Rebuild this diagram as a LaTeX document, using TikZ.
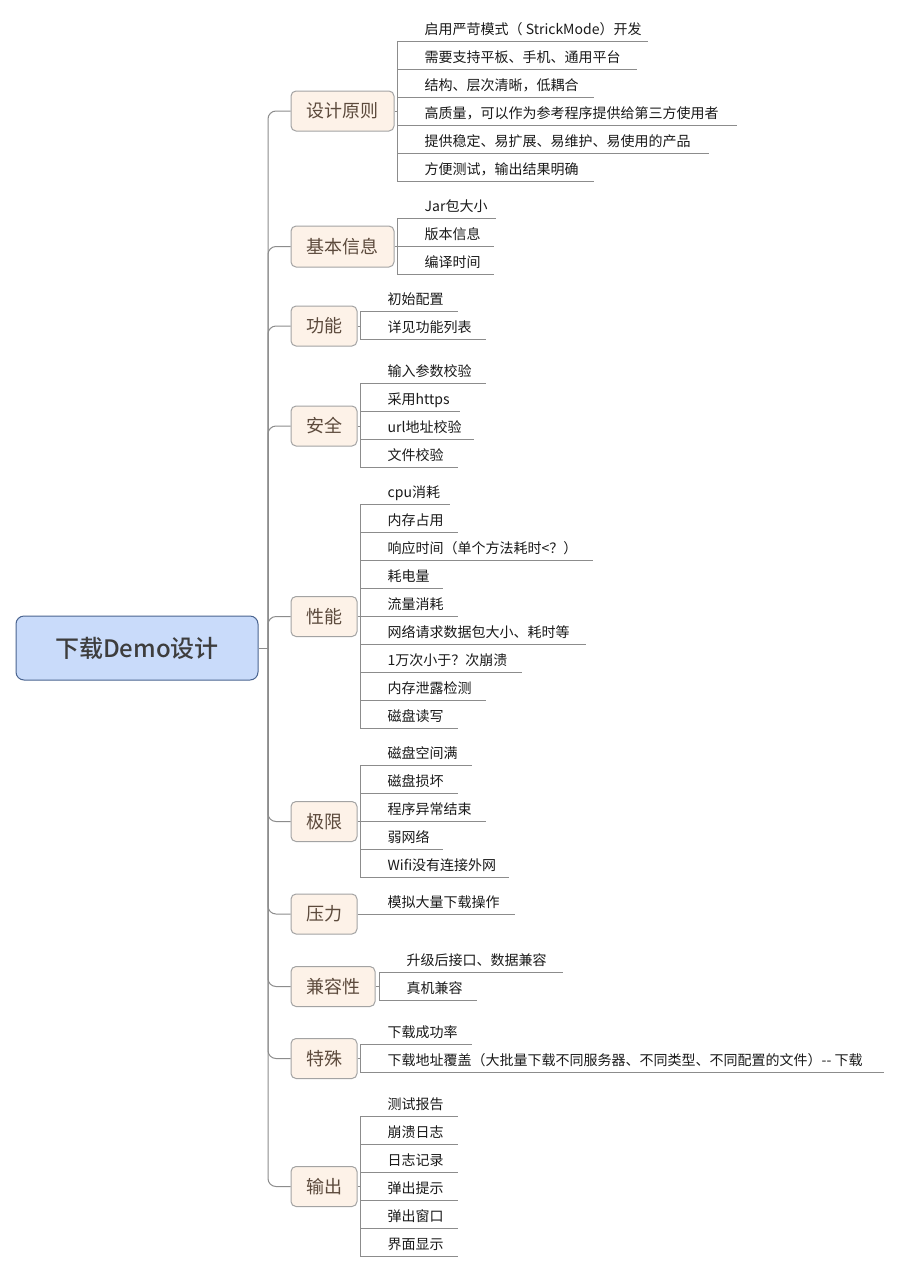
\documentclass[tikz,border=0pt]{standalone}
\usepackage{fontspec}
\setmainfont{Noto Sans CJK SC}
\newfontfamily\rootfont{Noto Sans CJK SC Medium}
\usetikzlibrary{calc}
\definecolor{linec}{HTML}{8C8C8C}
\definecolor{bfill}{HTML}{FDF2E8}
\definecolor{bdraw}{HTML}{A3A3A3}
\definecolor{btext}{HTML}{5C4A3C}
\definecolor{rfill}{HTML}{C9DBFA}
\definecolor{rdraw}{HTML}{4A6490}
\definecolor{rtext}{HTML}{3D3D3D}
\definecolor{ltext}{HTML}{1A1A1A}
\tikzset{
  conn/.style={draw=linec, line width=1pt},
  rootbox/.style={draw=rdraw, fill=rfill, line width=1pt, rounded corners=8pt,
    minimum width=242pt, minimum height=64pt, inner sep=0pt, text=rtext,
    font=\fontsize{24}{28}\rootfont},
  brbox/.style={draw=bdraw, fill=bfill, line width=1pt, rounded corners=5pt,
    minimum height=40pt, inner sep=0pt, text=btext,
    font=\fontsize{18}{22}\selectfont},
  leaf/.style={anchor=base west, inner sep=0pt, text=ltext,
    font=\fontsize{14}{16}\selectfont},
}
\newcommand\mkleaf[5]{%
  \coordinate (#1s) at (#2,#3);
  \coordinate (#1e) at (#4,#3);
  \draw[conn] (#1s) -- (#1e);
  \node[leaf] (#1) at ([shift={(27.5,-6.5)}]#1s) {#5};
}
\begin{document}
\begin{tikzpicture}[x=1pt,y=-1pt]
\fill[white] (0,0) rectangle (900,1272);
\useasboundingbox (0,0) rectangle (900,1272);

% root
\node[rootbox] (root) at (137,648) {下载Demo设计};
\coordinate (spine) at (268,648);

% branch boxes
\node[brbox, minimum width=103pt] (b1) at (342.5,111) {设计原则};
\node[brbox, minimum width=103pt, minimum height=41pt] (b2) at (342.5,246.5) {基本信息};
\node[brbox, minimum width=66pt] (b3) at (324,326) {功能};
\node[brbox, minimum width=66pt] (b4) at (324,426) {安全};
\node[brbox, minimum width=66pt] (b5) at (324,616.5) {性能};
\node[brbox, minimum width=66pt] (b6) at (324,821.5) {极限};
\node[brbox, minimum width=66pt] (b7) at (324,914) {压力};
\node[brbox, minimum width=84pt] (b8) at (333,986.5) {兼容性};
\node[brbox, minimum width=66pt] (b9) at (324,1058.5) {特殊};
\node[brbox, minimum width=66pt] (b10) at (324,1186.5) {输出};

% spine and branches
\draw[conn] (root.east) -- (spine);
\foreach \b in {b1,b2,b3,b4,b5,b6,b7,b8,b9,b10}{
  \draw[conn, rounded corners=8pt] (\b.west) -| (spine);
}

% group 1
\mkleaf{l11}{397}{41}{648}{启用严苛模式（ StrickMode）开发}
\mkleaf{l12}{397}{69}{637}{需要支持平板、手机、通用平台}
\mkleaf{l13}{397}{97}{594}{结构、层次清晰，低耦合}
\mkleaf{l14}{397}{125}{737}{高质量，可以作为参考程序提供给第三方使用者}
\mkleaf{l15}{397}{153}{709}{提供稳定、易扩展、易维护、易使用的产品}
\mkleaf{l16}{397}{181}{594}{方便测试，输出结果明确}
\draw[conn] (l11s) -- (l16s);
\draw[conn] (b1.east) -- (b1.east -| l11s);

% group 2
\mkleaf{l21}{397}{218}{496}{Jar包大小}
\mkleaf{l22}{397}{246}{494}{版本信息}
\mkleaf{l23}{397}{274}{494}{编译时间}
\draw[conn] (l21s) -- (l23s);
\draw[conn] (b2.east) -- (b2.east -| l21s);

% group 3
\mkleaf{l31}{360}{311}{458}{初始配置}
\mkleaf{l32}{360}{339}{486}{详见功能列表}
\draw[conn] (l31s) -- (l32s);
\draw[conn] (b3.east) -- (b3.east -| l31s);

% group 4
\mkleaf{l41}{360}{383}{486}{输入参数校验}
\mkleaf{l42}{360}{411}{460}{采用https}
\mkleaf{l43}{360}{439}{474}{url地址校验}
\mkleaf{l44}{360}{467}{458}{文件校验}
\draw[conn] (l41s) -- (l44s);
\draw[conn] (b4.east) -- (b4.east -| l41s);

% group 5
\mkleaf{l51}{360}{504}{450}{cpu消耗}
\mkleaf{l52}{360}{532}{458}{内存占用}
\mkleaf{l53}{360}{560}{593}{响应时间（单个方法耗时<？）}
\mkleaf{l54}{360}{588}{443}{耗电量}
\mkleaf{l55}{360}{616}{458}{流量消耗}
\mkleaf{l56}{360}{644}{586}{网络请求数据包大小、耗时等}
\mkleaf{l57}{360}{672}{522}{1万次小于？次崩溃}
\mkleaf{l58}{360}{700}{486}{内存泄露检测}
\mkleaf{l59}{360}{728}{458}{磁盘读写}
\draw[conn] (l51s) -- (l59s);
\draw[conn] (b5.east) -- (b5.east -| l51s);

% group 6
\mkleaf{l61}{360}{765}{472}{磁盘空间满}
\mkleaf{l62}{360}{793}{458}{磁盘损坏}
\mkleaf{l63}{360}{821}{486}{程序异常结束}
\mkleaf{l64}{360}{849}{443}{弱网络}
\mkleaf{l65}{360}{877}{509}{Wifi没有连接外网}
\draw[conn] (l61s) -- (l65s);
\draw[conn] (b6.east) -- (b6.east -| l61s);

% group 7
\mkleaf{l71}{360}{914}{515}{模拟大量下载操作}
\draw[conn] (b7.east) -- (l71s);

% group 8
\mkleaf{l81}{379}{972}{563}{升级后接口、数据兼容}
\mkleaf{l82}{379}{1000}{477}{真机兼容}
\draw[conn] (l81s) -- (l82s);
\draw[conn] (b8.east) -- (b8.east -| l81s);

% group 9
\mkleaf{l91}{360}{1044}{472}{下载成功率}
\mkleaf{l92}{360}{1072}{884}{下载地址覆盖（大批量下载不同服务器、不同类型、不同配置的文件）{-}{-} 下载}
\draw[conn] (l91s) -- (l92s);
\draw[conn] (b9.east) -- (b9.east -| l91s);

% group 10
\mkleaf{la1}{360}{1116}{458}{测试报告}
\mkleaf{la2}{360}{1144}{458}{崩溃日志}
\mkleaf{la3}{360}{1172}{458}{日志记录}
\mkleaf{la4}{360}{1200}{458}{弹出提示}
\mkleaf{la5}{360}{1228}{458}{弹出窗口}
\mkleaf{la6}{360}{1256}{458}{界面显示}
\draw[conn] (la1s) -- (la6s);
\draw[conn] (b10.east) -- (b10.east -| la1s);
\end{tikzpicture}
\end{document}
